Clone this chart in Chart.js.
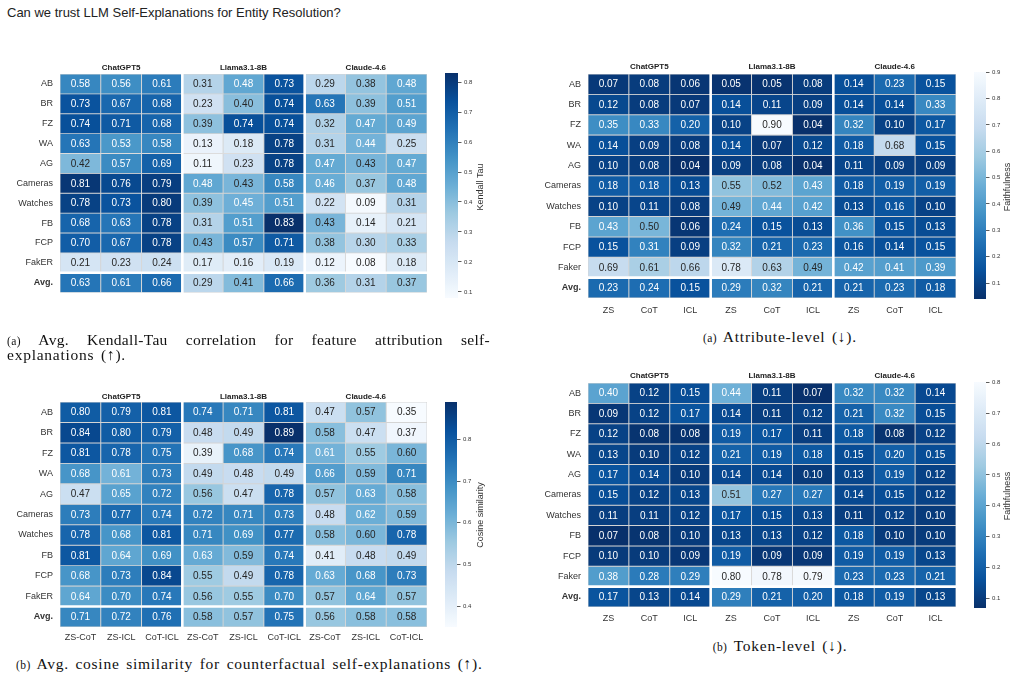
<!DOCTYPE html>
<html><head><meta charset="utf-8">
<script src="https://cdn.jsdelivr.net/npm/chart.js@4.4.1/dist/chart.umd.min.js"></script>
<style>
body{margin:0;background:#fff;}
#page{position:relative;width:1019px;height:673px;overflow:hidden;font-family:"Liberation Sans",Arial,sans-serif;}
#page canvas{position:absolute;}
.title{position:absolute;left:7px;top:6px;font-size:13px;line-height:13px;color:#222;white-space:nowrap;}
.cap{position:absolute;font-family:"Liberation Serif","DejaVu Serif",serif;font-size:15.5px;line-height:14px;letter-spacing:0.75px;word-spacing:2px;color:#111;white-space:nowrap;}
.cap small{font-size:11.5px;letter-spacing:0.4px;}
.cbl{position:absolute;font-size:9px;color:#333;transform:translate(-50%,-50%) rotate(-90deg);white-space:nowrap;}
</style></head>
<body>
<div id="page">
  <div class="title">Can we trust LLM Self-Explanations for Entity Resolution?</div>
  <canvas id="cA" width="430" height="250" style="left:0px;top:55px"></canvas>
  <canvas id="cB" width="430" height="265" style="left:0px;top:383px"></canvas>
  <canvas id="cC" width="440" height="265" style="left:520px;top:55px"></canvas>
  <canvas id="cD" width="440" height="265" style="left:520px;top:364px"></canvas>
  <canvas id="bA" width="35" height="237" style="left:445px;top:67px"></canvas>
  <canvas id="bB" width="34" height="237" style="left:445px;top:396px"></canvas>
  <canvas id="bC" width="34" height="239" style="left:974px;top:66px"></canvas>
  <canvas id="bD" width="34" height="238" style="left:974px;top:376px"></canvas>
  <div class="cbl" style="left:480px;top:187px">Kendall Tau</div>
  <div class="cbl" style="left:480px;top:515px">Cosine similarity</div>
  <div class="cbl" style="left:1007px;top:187px">Faithfulness</div>
  <div class="cbl" style="left:1007px;top:496px">Faithfulness</div>
  <div class="cap" style="left:7px;top:333px;width:483px;text-align:justify;text-align-last:justify;letter-spacing:0.3px;"><small>(a)</small> Avg. Kendall-Tau correlation for feature attribution self-</div>
  <div class="cap" style="left:7px;top:348px;">explanations (↑).</div>
  <div class="cap" style="left:16px;top:657px;"><small>(b)</small> Avg. cosine similarity for counterfactual self-explanations (↑).</div>
  <div class="cap" style="left:780px;top:330px;transform:translateX(-50%);"><small>(a)</small> Attribute-level (↓).</div>
  <div class="cap" style="left:780px;top:639px;transform:translateX(-50%);"><small>(b)</small> Token-level (↓).</div>
</div>
<script>
// ---------------- data ----------------
const groups = ['ChatGPT5', 'Llama3.1-8B', 'Claude-4.6'];
const rowsLeft = ['AB', 'BR', 'FZ', 'WA', 'AG', 'Cameras', 'Watches', 'FB', 'FCP', 'FakER', 'Avg.'];
const rowsRight = ['AB', 'BR', 'FZ', 'WA', 'AG', 'Cameras', 'Watches', 'FB', 'FCP', 'Faker', 'Avg.'];
const colsLeft = ['ZS-CoT', 'ZS-ICL', 'CoT-ICL', 'ZS-CoT', 'ZS-ICL', 'CoT-ICL', 'ZS-CoT', 'ZS-ICL', 'CoT-ICL'];
const colsRight = ['ZS', 'CoT', 'ICL', 'ZS', 'CoT', 'ICL', 'ZS', 'CoT', 'ICL'];

const kendallTau = [
  [0.58, 0.56, 0.61, 0.31, 0.48, 0.73, 0.29, 0.38, 0.48],
  [0.73, 0.67, 0.68, 0.23, 0.40, 0.74, 0.63, 0.39, 0.51],
  [0.74, 0.71, 0.68, 0.39, 0.74, 0.74, 0.32, 0.47, 0.49],
  [0.63, 0.53, 0.58, 0.13, 0.18, 0.78, 0.31, 0.44, 0.25],
  [0.42, 0.57, 0.69, 0.11, 0.23, 0.78, 0.47, 0.43, 0.47],
  [0.81, 0.76, 0.79, 0.48, 0.43, 0.58, 0.46, 0.37, 0.48],
  [0.78, 0.73, 0.80, 0.39, 0.45, 0.51, 0.22, 0.09, 0.31],
  [0.68, 0.63, 0.78, 0.31, 0.51, 0.83, 0.43, 0.14, 0.21],
  [0.70, 0.67, 0.78, 0.43, 0.57, 0.71, 0.38, 0.30, 0.33],
  [0.21, 0.23, 0.24, 0.17, 0.16, 0.19, 0.12, 0.08, 0.18],
  [0.63, 0.61, 0.66, 0.29, 0.41, 0.66, 0.36, 0.31, 0.37]
];
const cosineSim = [
  [0.80, 0.79, 0.81, 0.74, 0.71, 0.81, 0.47, 0.57, 0.35],
  [0.84, 0.80, 0.79, 0.48, 0.49, 0.89, 0.58, 0.47, 0.37],
  [0.81, 0.78, 0.75, 0.39, 0.68, 0.74, 0.61, 0.55, 0.60],
  [0.68, 0.61, 0.73, 0.49, 0.48, 0.49, 0.66, 0.59, 0.71],
  [0.47, 0.65, 0.72, 0.56, 0.47, 0.78, 0.57, 0.63, 0.58],
  [0.73, 0.77, 0.74, 0.72, 0.71, 0.73, 0.48, 0.62, 0.59],
  [0.78, 0.68, 0.81, 0.71, 0.69, 0.77, 0.58, 0.60, 0.78],
  [0.81, 0.64, 0.69, 0.63, 0.59, 0.74, 0.41, 0.48, 0.49],
  [0.68, 0.73, 0.84, 0.55, 0.49, 0.78, 0.63, 0.68, 0.73],
  [0.64, 0.70, 0.74, 0.56, 0.55, 0.70, 0.57, 0.64, 0.57],
  [0.71, 0.72, 0.76, 0.58, 0.57, 0.75, 0.56, 0.58, 0.58]
];
const attrFaith = [
  [0.07, 0.08, 0.06, 0.05, 0.05, 0.08, 0.14, 0.23, 0.15],
  [0.12, 0.08, 0.07, 0.14, 0.11, 0.09, 0.14, 0.14, 0.33],
  [0.35, 0.33, 0.20, 0.10, 0.90, 0.04, 0.32, 0.10, 0.17],
  [0.14, 0.09, 0.08, 0.14, 0.07, 0.12, 0.18, 0.68, 0.15],
  [0.10, 0.08, 0.04, 0.09, 0.08, 0.04, 0.11, 0.09, 0.09],
  [0.18, 0.18, 0.13, 0.55, 0.52, 0.43, 0.18, 0.19, 0.19],
  [0.10, 0.11, 0.08, 0.49, 0.44, 0.42, 0.13, 0.16, 0.10],
  [0.43, 0.50, 0.06, 0.24, 0.15, 0.13, 0.36, 0.15, 0.13],
  [0.15, 0.31, 0.09, 0.32, 0.21, 0.23, 0.16, 0.14, 0.15],
  [0.69, 0.61, 0.66, 0.78, 0.63, 0.49, 0.42, 0.41, 0.39],
  [0.23, 0.24, 0.15, 0.29, 0.32, 0.21, 0.21, 0.23, 0.18]
];
const tokenFaith = [
  [0.40, 0.12, 0.15, 0.44, 0.11, 0.07, 0.32, 0.32, 0.14],
  [0.09, 0.12, 0.17, 0.14, 0.11, 0.12, 0.21, 0.32, 0.15],
  [0.12, 0.08, 0.08, 0.19, 0.17, 0.11, 0.18, 0.08, 0.12],
  [0.13, 0.10, 0.12, 0.21, 0.19, 0.18, 0.15, 0.20, 0.15],
  [0.17, 0.14, 0.10, 0.14, 0.14, 0.10, 0.13, 0.19, 0.12],
  [0.15, 0.12, 0.13, 0.51, 0.27, 0.27, 0.14, 0.15, 0.12],
  [0.11, 0.11, 0.12, 0.17, 0.15, 0.13, 0.11, 0.12, 0.10],
  [0.07, 0.08, 0.10, 0.13, 0.13, 0.12, 0.18, 0.10, 0.10],
  [0.10, 0.10, 0.09, 0.19, 0.09, 0.09, 0.19, 0.19, 0.13],
  [0.38, 0.28, 0.29, 0.80, 0.78, 0.79, 0.23, 0.23, 0.21],
  [0.17, 0.13, 0.14, 0.29, 0.21, 0.20, 0.18, 0.19, 0.13]
];
const ticksKendall = [0.1, 0.2, 0.3, 0.4, 0.5, 0.6, 0.7, 0.8];
const ticksCosine = [0.4, 0.5, 0.6, 0.7, 0.8];
const ticksAttr = [0.1, 0.2, 0.3, 0.4, 0.5, 0.6, 0.7, 0.8, 0.9];
const ticksToken = [0.1, 0.2, 0.3, 0.4, 0.5, 0.6, 0.7, 0.8];

// ---------------- colour map (matplotlib "Blues") ----------------
const BLUES = ['#f7fbff', '#deebf7', '#c6dbef', '#9ecae1', '#6baed6', '#4292c6', '#2171b5', '#08519c', '#08306b'];
const hexRgb = h => [1, 3, 5].map(k => parseInt(h.substr(k, 2), 16) / 255);
function blues(t) {
  t = Math.max(0, Math.min(1, t));
  const p = t * 8, i = Math.min(7, Math.floor(p)), f = p - i;
  const a = hexRgb(BLUES[i]), b = hexRgb(BLUES[i + 1]);
  return a.map((v, k) => v + (b[k] - v) * f);
}
function cmap(v, vmin, vmax, rev) {
  let t = (v - vmin) / (vmax - vmin);
  if (rev) t = 1 - t;
  return blues(t);
}
const css = c => 'rgb(' + c.map(v => Math.round(v * 255)).join(',') + ')';
function lum(c) {
  const l = c.map(v => v <= 0.03928 ? v / 12.92 : Math.pow((v + 0.055) / 1.055, 2.4));
  return 0.2126 * l[0] + 0.7152 * l[1] + 0.0722 * l[2];
}

Chart.defaults.font.family = '"Liberation Sans", Arial, sans-serif';
Chart.defaults.animation = false;

function heatmap(id, g) {
  const vals = g.values, flat = vals.flat();
  const vmin = Math.min(...flat), vmax = Math.max(...flat);
  const datasets = g.rows.map((r, i) => ({
    label: r,
    data: g.cols.map(() => [i, i + 1]),
    backgroundColor: g.cols.map((c, j) => css(cmap(vals[i][j], vmin, vmax, g.reverse))),
    borderColor: '#d4d4d4',
    borderWidth: 0.8,
    borderSkipped: false,
    barPercentage: 1,
    categoryPercentage: 1,
    grouped: false
  }));
  const plug = {
    id: 'heat_' + id,
    afterDatasetsDraw(chart) {
      const {ctx, chartArea: a, scales: {x, y}} = chart;
      ctx.save();
      ctx.strokeStyle = '#ffffff';
      ctx.lineWidth = 2.6;
      [2.5, 5.5].forEach(v => {
        const px = x.getPixelForValue(v);
        ctx.beginPath(); ctx.moveTo(px, a.top - 1); ctx.lineTo(px, a.bottom + 1); ctx.stroke();
      });
      const py = y.getPixelForValue(g.rows.length - 1);
      ctx.beginPath(); ctx.moveTo(a.left - 1, py); ctx.lineTo(a.right + 1, py); ctx.stroke();
      ctx.font = '10px "Liberation Sans", Arial, sans-serif';
      ctx.textAlign = 'center';
      ctx.textBaseline = 'middle';
      chart.data.datasets.forEach((ds, i) => {
        chart.getDatasetMeta(i).data.forEach((el, j) => {
          const v = vals[i][j];
          const c = cmap(v, vmin, vmax, g.reverse);
          ctx.fillStyle = lum(c) > 0.408 ? '#262626' : '#ffffff';
          ctx.fillText(v.toFixed(2), el.x, (el.y + el.base) / 2 + 0.5);
        });
      });
      ctx.restore();
    }
  };
  new Chart(document.getElementById(id), {
    type: 'bar',
    data: {labels: g.cols, datasets},
    plugins: [plug],
    options: {
      responsive: false,
      animation: false,
      events: [],
      layout: {padding: {left: 0, right: g.padR, top: 0, bottom: g.padB}},
      plugins: {legend: {display: false}, tooltip: {enabled: false}},
      scales: {
        x: {
          type: 'category', position: 'bottom', offset: true, display: g.showX,
          grid: {display: false, drawTicks: false}, border: {display: false},
          ticks: {font: {size: 9}, color: '#333', padding: g.xPad, maxRotation: 0, autoSkip: false},
          afterFit: s => { s.height = g.xH; }
        },
        grp: {
          type: 'category', position: 'top', offset: true, labels: groups,
          grid: {display: false, drawTicks: false}, border: {display: false},
          ticks: {font: {size: 8, weight: 'bold'}, color: '#222', padding: g.gPad, maxRotation: 0, autoSkip: false},
          afterFit: s => { s.height = g.gH; }
        },
        y: {
          type: 'linear', min: 0, max: g.rows.length, reverse: true,
          grid: {display: false, drawTicks: false}, border: {display: false},
          afterBuildTicks: s => { s.ticks = g.rows.map((r, i) => ({value: i + 0.5})); },
          ticks: {
            autoSkip: false, color: '#333', padding: 7,
            callback: (v, i) => g.rows[i],
            font: c => ({size: 9, weight: c.index === g.rows.length - 1 ? 'bold' : 'normal'})
          },
          afterFit: s => { s.width = g.yW; }
        }
      }
    }
  });
  return {vmin, vmax};
}

function colorbar(id, vmin, vmax, rev, ticks) {
  new Chart(document.getElementById(id), {
    type: 'bar',
    data: {
      labels: [''],
      datasets: [{
        data: [[vmin, vmax]],
        borderWidth: 0,
        barPercentage: 1,
        categoryPercentage: 1,
        backgroundColor: c => {
          const ch = c.chart;
          if (!ch.chartArea) return '#ffffff';
          const y = ch.scales.y;
          const y0 = y.getPixelForValue(vmin), y1 = y.getPixelForValue(vmax);
          const gr = ch.ctx.createLinearGradient(0, y0, 0, y1);
          for (let k = 0; k <= 40; k++) {
            const t = k / 40;
            gr.addColorStop(t, css(blues(rev ? 1 - t : t)));
          }
          return gr;
        }
      }]
    },
    options: {
      responsive: false,
      animation: false,
      events: [],
      layout: {padding: {left: 0, right: 0, top: 6, bottom: 6}},
      plugins: {legend: {display: false}, tooltip: {enabled: false}},
      scales: {
        x: {display: false, offset: true},
        y: {
          position: 'right', min: vmin, max: vmax,
          afterBuildTicks: s => { s.ticks = ticks.map(v => ({value: v})); },
          grid: {drawOnChartArea: false, drawTicks: true, tickLength: 3.5, color: '#333', lineWidth: 0.8},
          border: {display: false},
          ticks: {font: {size: 6}, color: '#333', padding: 2.5, autoSkip: false, callback: v => v.toFixed(1)},
          afterFit: s => { s.width = 22; }
        }
      }
    }
  });
}

const rA = heatmap('cA', {values: kendallTau, rows: rowsLeft, cols: colsLeft, reverse: false,
  yW: 60, padR: 3, padB: 7, gH: 19, gPad: 1.5, showX: false, xH: 0, xPad: 0});
const rB = heatmap('cB', {values: cosineSim, rows: rowsLeft, cols: colsLeft, reverse: false,
  yW: 60, padR: 3, padB: 0, gH: 19, gPad: 0.5, showX: true, xH: 21, xPad: 5.6});
const rC = heatmap('cC', {values: attrFaith, rows: rowsRight, cols: colsRight, reverse: true,
  yW: 68, padR: 4, padB: 0, gH: 19, gPad: 2, showX: true, xH: 22, xPad: 7});
const rD = heatmap('cD', {values: tokenFaith, rows: rowsRight, cols: colsRight, reverse: true,
  yW: 68, padR: 4, padB: 0, gH: 19, gPad: 2, showX: true, xH: 22, xPad: 6.6});

colorbar('bA', rA.vmin, rA.vmax, false, ticksKendall);
colorbar('bB', rB.vmin, rB.vmax, false, ticksCosine);
colorbar('bC', rC.vmin, rC.vmax, true, ticksAttr);
colorbar('bD', rD.vmin, rD.vmax, true, ticksToken);
</script>
</body></html>
